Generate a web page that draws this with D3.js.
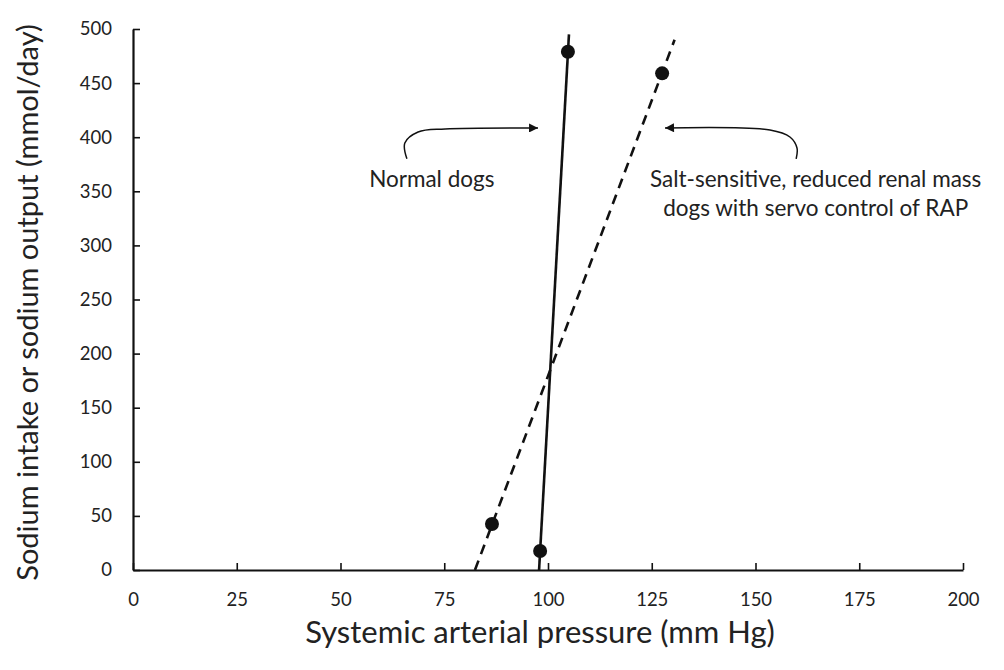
<!DOCTYPE html>
<html>
<head>
<meta charset="utf-8">
<script src="https://cdn.jsdelivr.net/npm/d3@7"></script>
<style>
  body { margin: 0; background: #fff; }
  text { font-family: Lato, "Open Sans", sans-serif; fill: #222; }
</style>
</head>
<body>
<div id="chart"></div>
<script>
// Chart data
var xTicks = [0, 25, 50, 75, 100, 125, 150, 175, 200];
var yTicks = [0, 50, 100, 150, 200, 250, 300, 350, 400, 450, 500];

// measured points (pressure, sodium)
var normalPoints = [[98.1, 17.5], [104.8, 479]];
var saltPoints = [[86.5, 42.5], [127.5, 459]];

// trend lines through the points
var normalLine = [[97.85, 0], [105.05, 495]];
var saltLine = [[82.4, 0], [130.5, 490]];

// annotation arrows, in data units
var normalArrow = [[66.0, 380], [65.5, 394.6], [68.7, 404.8], [75.2, 407.6], [97.6, 408.5]];
var saltArrow = [[159.8, 380], [160.0, 390], [158.3, 400.2], [153.5, 406.7], [128.2, 408.5]];

var normalLabel = ["Normal dogs"];
var saltLabel = ["Salt-sensitive, reduced renal mass", "dogs with servo control of RAP"];
var normalLabelPos = [72, 354];
var saltLabelPos = [164.5, 354];

// Define svg width and height
var svgWidth = 1004;
var svgHeight = 670;

var margin = {
  top: 29,
  right: 41,
  bottom: 100,
  left: 133
};

var width = svgWidth - margin.left - margin.right;
var height = svgHeight - margin.top - margin.bottom;

var svg = d3.select("#chart")
  .append("svg")
  .attr("width", svgWidth)
  .attr("height", svgHeight);

// arrow head marker
svg.append("defs")
  .append("marker")
  .attr("id", "arrow")
  .attr("viewBox", "0 0 10 10")
  .attr("refX", 10)
  .attr("refY", 5)
  .attr("markerUnits", "userSpaceOnUse")
  .attr("markerWidth", 13)
  .attr("markerHeight", 9)
  .attr("orient", "auto")
  .append("path")
  .attr("d", "M0,0L10,5L0,10Z")
  .attr("fill", "#111");

var chartGroup = svg.append("g")
  .attr("transform", `translate(${margin.left}, ${margin.top})`);

// scales
var xScale = d3.scaleLinear()
  .domain([0, 200])
  .range([0, width]);

var yScale = d3.scaleLinear()
  .domain([0, 500])
  .range([height, 0]);

// axes, ticks point inward
var bottomAxis = d3.axisBottom(xScale)
  .tickValues(xTicks)
  .tickSize(-7)
  .tickSizeOuter(0)
  .tickPadding(23);

var leftAxis = d3.axisLeft(yScale)
  .tickValues(yTicks)
  .tickSize(-7)
  .tickSizeOuter(0)
  .tickPadding(21);

var xAxis = chartGroup.append("g")
  .attr("transform", `translate(0, ${height})`)
  .call(bottomAxis);

var yAxis = chartGroup.append("g")
  .call(leftAxis);

[xAxis, yAxis].forEach(function(ax) {
  ax.select(".domain").attr("stroke", "#111").attr("stroke-width", 2.2);
  ax.selectAll(".tick line").attr("stroke", "#111").attr("stroke-width", 1.6);
  ax.selectAll(".tick text")
    .style("font-family", "Lato, 'Open Sans', sans-serif")
    .style("font-size", "18.5px")
    .attr("fill", "#222");
});

// axis titles
chartGroup.append("text")
  .attr("x", width / 2 - 8)
  .attr("y", height + 73)
  .attr("text-anchor", "middle")
  .style("font-size", "31px")
  .text("Systemic arterial pressure (mm Hg)");

chartGroup.append("text")
  .attr("transform", "rotate(-90)")
  .attr("x", -(height / 2) - 3)
  .attr("y", 38 - margin.left)
  .attr("text-anchor", "middle")
  .style("font-size", "29px")
  .text("Sodium intake or sodium output (mmol/day)");

var lineGen = d3.line()
  .x(d => xScale(d[0]))
  .y(d => yScale(d[1]));

// trend lines
chartGroup.append("path")
  .datum(normalLine)
  .attr("d", lineGen)
  .attr("fill", "none")
  .attr("stroke", "#111")
  .attr("stroke-width", 2.6);

chartGroup.append("path")
  .datum(saltLine)
  .attr("d", lineGen)
  .attr("fill", "none")
  .attr("stroke", "#111")
  .attr("stroke-width", 2.6)
  .attr("stroke-dasharray", "10,7");

// points
chartGroup.selectAll(null)
  .data(normalPoints.concat(saltPoints))
  .enter()
  .append("circle")
  .attr("cx", d => xScale(d[0]))
  .attr("cy", d => yScale(d[1]))
  .attr("r", 7)
  .attr("fill", "#111");

// annotation arrows
var arrowGen = d3.line()
  .x(d => xScale(d[0]))
  .y(d => yScale(d[1]))
  .curve(d3.curveCatmullRom.alpha(0.5));

[normalArrow, saltArrow].forEach(function(pts) {
  chartGroup.append("path")
    .datum(pts)
    .attr("d", arrowGen)
    .attr("fill", "none")
    .attr("stroke", "#111")
    .attr("stroke-width", 1.5)
    .attr("marker-end", "url(#arrow)");
});

// annotation labels
chartGroup.append("text")
  .attr("x", xScale(normalLabelPos[0]))
  .attr("y", yScale(normalLabelPos[1]))
  .attr("text-anchor", "middle")
  .style("font-size", "22.5px")
  .text(normalLabel[0]);

chartGroup.append("g")
  .selectAll("text")
  .data(saltLabel)
  .enter()
  .append("text")
  .attr("x", xScale(saltLabelPos[0]))
  .attr("y", (d, i) => yScale(saltLabelPos[1]) + i * 29)
  .attr("text-anchor", "middle")
  .style("font-size", "22.5px")
  .text(d => d);
</script>
</body>
</html>
